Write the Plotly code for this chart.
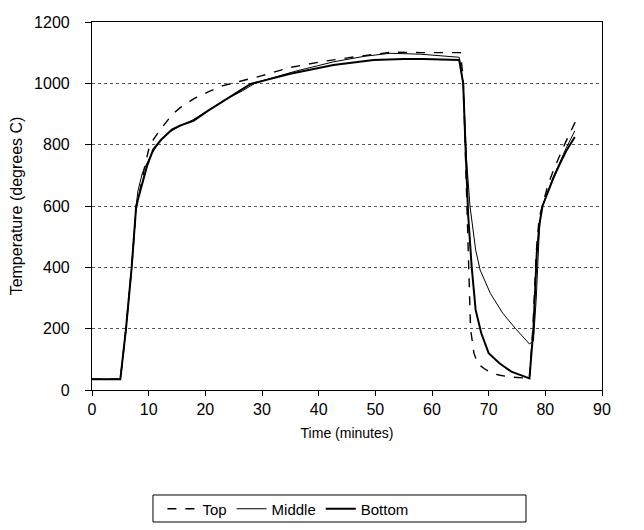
import plotly.graph_objects as go

# Time (minutes) and temperature (degrees C)
t_top = [0, 5, 6, 7, 7.8, 8.5, 9.2, 10, 10.8, 11.7, 12.6, 14, 15.5, 18, 20.5, 23, 26, 30, 35, 41, 47, 53, 58,
         65.0, 65.5, 66.0, 66.4, 66.8, 67.4, 68.1, 69.2, 70.5, 72, 74, 77.2, 77.8, 78.4, 78.9, 79.6, 80.5, 81.5,
         82.5, 83.5, 84.4, 85.3]
T_top = [35, 35, 200, 400, 590, 660, 720, 784, 816, 840, 862, 895, 920, 950, 972, 992, 1006, 1025, 1052, 1072,
         1088, 1102, 1100, 1100, 1020, 700, 380, 200, 120, 85, 70, 55, 48, 42, 38, 200, 450, 560, 610, 670, 720,
         765, 805, 840, 875]

t_mid = [0, 5, 6, 7, 7.8, 8.1, 8.9, 10.3, 11.9, 13.6, 15, 17.9, 20.8, 23.8, 26.5, 29, 36, 42.6, 48, 52.6, 58,
         64.8, 65.5, 66.1, 66.7, 67.7, 68.5, 70.3, 72.5, 74.7, 77.2, 77.9, 78.4, 79, 79.5, 80.3, 81.4, 82.5, 83.7,
         85.2]
T_mid = [35, 35, 200, 400, 600, 649, 708, 762, 811, 840, 855, 882, 915, 950, 975, 1003, 1040, 1070, 1088, 1098,
         1095, 1085, 1000, 750, 600, 457, 391, 315, 250, 201, 150, 160, 300, 545, 600, 640, 695, 740, 790, 845]

t_bot = [0, 5, 6, 7, 7.8, 8.3, 9.7, 10.8, 12.2, 14.1, 15.5, 17.9, 20.5, 23.8, 28, 31, 35, 42.6, 49.7, 55, 58.5,
         64.8, 65.5, 66.0, 66.4, 67.0, 67.7, 68.7, 70, 71.9, 74, 77.2, 77.9, 78.5, 79, 79.5, 80.3, 81.4, 82.5,
         83.7, 85.2]
T_bot = [35, 35, 200, 400, 600, 632, 730, 784, 816, 849, 862, 878, 911, 949, 998, 1012, 1031, 1060, 1076, 1079,
         1079, 1076, 1000, 750, 565, 402, 261, 185, 120, 87, 60, 38, 200, 450, 545, 600, 640, 690, 735, 780, 825]

x_ticks = [0, 10, 20, 30, 40, 50, 60, 70, 80, 90]
y_ticks = [0, 200, 400, 600, 800, 1000, 1200]

FONT = "Liberation Sans, Arial, Helvetica, sans-serif"

fig = go.Figure()
fig.add_trace(go.Scatter(x=t_top, y=T_top, mode="lines", name="Top",
                         line=dict(color="black", width=1.4, dash="dash")))
fig.add_trace(go.Scatter(x=t_mid, y=T_mid, mode="lines", name="Middle",
                         line=dict(color="black", width=1.0)))
fig.add_trace(go.Scatter(x=t_bot, y=T_bot, mode="lines", name="Bottom",
                         line=dict(color="black", width=2.0)))

fig.update_layout(
    width=644, height=530,
    margin=dict(l=84, r=50, t=14, b=148, autoexpand=False),
    paper_bgcolor="white", plot_bgcolor="white",
    font=dict(family=FONT, size=16, color="black"),
    showlegend=True,
    legend=dict(orientation="h", x=0.138, xanchor="left",
                yref="container", y=1 - 501 / 530, yanchor="middle",
                bgcolor="rgba(0,0,0,0)", borderwidth=0, itemwidth=30,
                font=dict(family=FONT, size=15), tracegroupgap=0),
    shapes=[dict(type="rect", xref="paper", yref="paper",
                 x0=0.1196, x1=0.851, y0=-0.3587, y1=-0.2853,
                 line=dict(color="black", width=1))],
)
fig.update_xaxes(range=[0, 90], tickvals=x_ticks, showgrid=False, zeroline=False,
                 showline=True, mirror=True, linecolor="black", linewidth=1.2,
                 ticks="outside", ticklen=5, tickcolor="black",
                 title=dict(text="Time (minutes)", standoff=10, font=dict(size=14)))
fig.update_yaxes(range=[0, 1200], tickvals=y_ticks, showgrid=True, gridcolor="#555555",
                 griddash="dot", gridwidth=1, zeroline=False,
                 showline=True, mirror=True, linecolor="black", linewidth=1.2,
                 ticks="outside", ticklen=6, tickcolor="black", ticklabelstandoff=12,
                 title=dict(text="Temperature (degrees C)", standoff=9, font=dict(size=16)))

fig.write_html("out.html")
